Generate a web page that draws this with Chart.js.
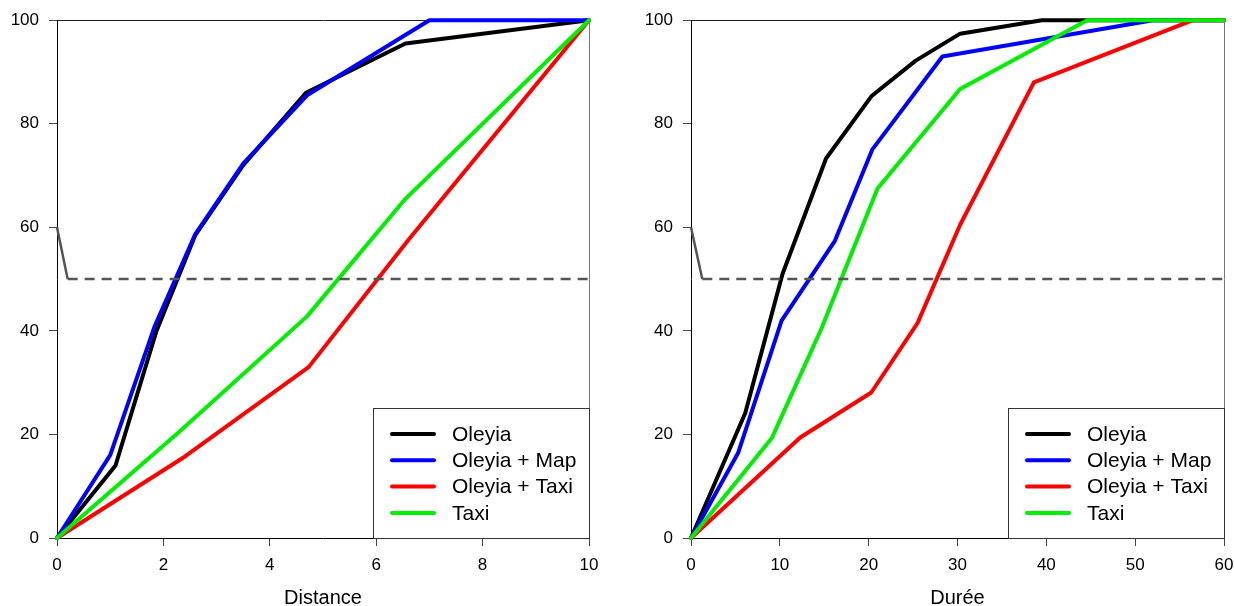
<!DOCTYPE html>
<html>
<head>
<meta charset="utf-8">
<script src="https://cdn.jsdelivr.net/npm/chart.js@4.4.1/dist/chart.umd.min.js"></script>
<style>
  html, body { margin: 0; padding: 0; background: #fff; }
  #wrap { position: relative; width: 1234px; height: 606px; }
  canvas { position: absolute; top: 0; }
</style>
</head>
<body>
<div id="wrap">
  <canvas id="distChart" width="617" height="606" style="left:0"></canvas>
  <canvas id="dureeChart" width="617" height="606" style="left:617px"></canvas>
</div>
<script>
// --- data, [x, y] pairs (cumulative %) ---
const seriesLabels = ["Oleyia", "Oleyia + Map", "Oleyia + Taxi", "Taxi"];
const seriesColors = ["#000000", "#0000ff", "#ff0000", "#00ee00"];

// Distance panel
const distOleyia     = [[0, 0], [1.1, 14], [1.87, 40], [2.6, 58.5], [3.5, 72], [4.68, 86], [6.55, 95.5], [10, 100]];
const distOleyiaMap  = [[0, 0], [1.0, 16], [1.84, 41], [2.6, 58.7], [3.5, 72.3], [4.7, 85.5], [7.0, 100], [10, 100]];
const distOleyiaTaxi = [[0, 0], [2.4, 15.7], [4.73, 33], [6.6, 57.5], [10, 100]];
const distTaxi       = [[0, 0], [2.3, 20.5], [4.7, 42.8], [6.55, 65.5], [10, 100]];
const distTicks = [0, 2, 4, 6, 8, 10];
const distGuide = [[0, 60], [0.2, 50], [10, 50]];

// Durée panel
const dureeOleyia     = [[0, 0], [6.1, 24.1], [10.3, 51], [15.2, 73.3], [20.3, 85.3], [25.3, 92.2], [30.3, 97.4], [39.5, 100], [60, 100]];
const dureeOleyiaMap  = [[0, 0], [5.3, 16.4], [10.2, 42], [16.2, 57.4], [20.4, 75], [28.3, 93], [52, 100], [60, 100]];
const dureeOleyiaTaxi = [[0, 0], [12.3, 19.4], [20.3, 28.1], [25.5, 41.5], [30.3, 60.5], [38.6, 88], [56.5, 100], [60, 100]];
const dureeTaxi       = [[0, 0], [9.1, 19.3], [14.7, 40.5], [21.0, 67.5], [30.3, 86.7], [44.6, 100], [60, 100]];
const dureeTicks = [0, 10, 20, 30, 40, 50, 60];
const dureeGuide = [[0, 60], [1.27, 50], [60, 50]];

const yTicks = [0, 20, 40, 60, 80, 100];

const FONT = '"Liberation Sans", Arial, sans-serif';

function pts(arr) {
  return arr.map(p => ({ x: p[0], y: p[1] }));
}

// legend drawn inside the plot, bottom-right (like R's legend("bottomright"))
const insideLegend = {
  id: "insideLegend",
  afterDatasetsDraw(chart) {
    const { ctx, chartArea } = chart;
    const w = 216, h = 130;
    const left = Math.round(chartArea.right) - w;
    const top = Math.round(chartArea.bottom) - h;
    ctx.save();
    ctx.fillStyle = "#fff";
    ctx.fillRect(left, top, w, h);
    ctx.strokeStyle = "#333";
    ctx.lineWidth = 1;
    ctx.strokeRect(left + 0.5, top + 0.5, w, h);
    const items = chart.data.datasets.filter(d => d.inLegend);
    items.forEach((d, i) => {
      const y = top + 26 + i * 26.3;
      ctx.beginPath();
      ctx.strokeStyle = d.borderColor;
      ctx.lineWidth = 4;
      ctx.lineCap = "round";
      ctx.moveTo(left + 19, y);
      ctx.lineTo(left + 61, y);
      ctx.stroke();
      ctx.fillStyle = "#000";
      ctx.font = "21px " + FONT;
      ctx.textBaseline = "middle";
      ctx.fillText(d.label, left + 79, y + 1);
    });
    ctx.restore();
  }
};

// top and right edges of the box
const frame = {
  id: "frame",
  beforeDatasetsDraw(chart) {
    const { ctx, chartArea } = chart;
    const l = Math.round(chartArea.left) + 0.5, r = Math.round(chartArea.right) + 0.5;
    const t = Math.round(chartArea.top) + 0.5, b = Math.round(chartArea.bottom) + 0.5;
    ctx.save();
    ctx.lineWidth = 1;
    ctx.strokeStyle = "#222";
    ctx.beginPath(); ctx.moveTo(l, t); ctx.lineTo(r, t); ctx.stroke();
    ctx.strokeStyle = "#777";
    ctx.beginPath(); ctx.moveTo(r, t); ctx.lineTo(r, b); ctx.stroke();
    ctx.restore();
  }
};

function makeChart(id, series, guide, xTicks, xTitle, yWidth, padRight) {
  const datasets = series.map((s, i) => ({
    label: seriesLabels[i],
    data: pts(s),
    borderColor: seriesColors[i],
    borderWidth: 4,
    borderJoinStyle: "round",
    borderCapStyle: "round",
    pointRadius: 0,
    tension: 0,
    clip: false,
    inLegend: true,
    order: 4 - i
  }));
  datasets.push({
    label: "guide",
    data: pts(guide),
    borderColor: "#555",
    borderWidth: 2.5,
    pointRadius: 0,
    clip: false,
    inLegend: false,
    order: 0,
    segment: {
      borderDash: c => (c.p0DataIndex === 0 ? [] : [10, 7])
    }
  });

  return new Chart(document.getElementById(id), {
    type: "line",
    data: { datasets: datasets },
    plugins: [frame, insideLegend],
    options: {
      responsive: false,
      animation: false,
      layout: { padding: { top: 20, right: padRight, left: 0, bottom: 0 } },
      plugins: { legend: { display: false }, tooltip: { enabled: false } },
      scales: {
        x: {
          type: "linear",
          min: xTicks[0],
          max: xTicks[xTicks.length - 1],
          afterBuildTicks: s => { s.ticks = xTicks.map(v => ({ value: v })); },
          afterFit: s => {
            s.height = 68;
            // let the layout padding alone decide the plot edges
            s.paddingLeft = 0;
            s.paddingRight = 0;
          },
          border: { color: "#000", width: 1 },
          grid: { drawOnChartArea: false, tickLength: 8, tickColor: "#444" },
          ticks: { color: "#000", padding: 9, font: { family: FONT, size: 17 } },
          title: {
            display: true,
            text: xTitle,
            color: "#000",
            font: { family: FONT, size: 20, lineHeight: 1 },
            padding: { top: 0, bottom: -2 }
          }
        },
        y: {
          min: 0,
          max: 100,
          afterBuildTicks: s => { s.ticks = yTicks.map(v => ({ value: v })); },
          afterFit: s => { s.width = yWidth; },
          border: { color: "#000", width: 1 },
          grid: { drawOnChartArea: false, tickLength: 8, tickColor: "#444" },
          ticks: { color: "#000", padding: 10, font: { family: FONT, size: 17 } }
        }
      }
    }
  });
}

window.addEventListener("load", function () {
  makeChart("distChart",
    [distOleyia, distOleyiaMap, distOleyiaTaxi, distTaxi],
    distGuide, distTicks, "Distance", 57, 28);
  makeChart("dureeChart",
    [dureeOleyia, dureeOleyiaMap, dureeOleyiaTaxi, dureeTaxi],
    dureeGuide, dureeTicks, "Durée", 74, 10);
});
</script>
</body>
</html>
